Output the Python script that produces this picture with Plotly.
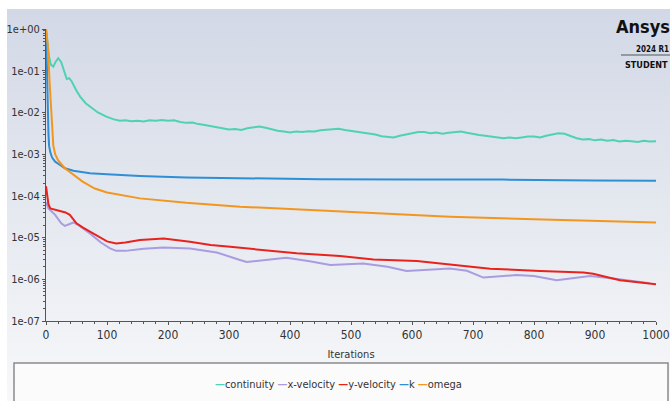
import base64
import plotly.graph_objects as go

# ---------------- data ----------------
series_names = ["continuity", "x-velocity", "y-velocity", "k", "omega"]
series_colors = ["#4fd2b2", "#a99ce0", "#e8231e", "#2f8ed6", "#f3961f"]

continuity_iter = [0, 2, 5, 8, 12, 16, 20, 25, 30, 34, 38, 42, 50, 56, 65, 75, 85, 99, 110, 121,
                   130, 140, 150, 160, 170, 180, 190, 200, 210, 220, 230, 240, 250, 260, 270, 280, 290,
                   300, 310, 320, 330, 340, 350, 360, 370, 380, 390, 400, 410, 420, 430, 440, 450, 460,
                   470, 480, 490, 500, 510, 520, 530, 540, 550, 560, 570, 580, 590, 600, 610, 620, 630,
                   640, 650, 660, 670, 680, 690, 700, 710, 720, 730, 740, 750, 760, 770, 780, 790, 800,
                   810, 820, 830, 840, 850, 860, 870, 880, 890, 900, 910, 920, 930, 940, 950, 960, 970,
                   980, 990, 1000]
continuity_val = [1.0, 0.5, 0.22, 0.14, 0.125, 0.165, 0.2, 0.16, 0.09, 0.063, 0.066, 0.056, 0.033,
                  0.024, 0.0166, 0.0126, 0.0100, 0.0079, 0.0069, 0.0063,
                  6.46e-3, 6.17e-3, 6.31e-3, 6.03e-3, 6.46e-3, 6.31e-3, 6.61e-3, 6.31e-3, 6.46e-3,
                  5.89e-3, 5.62e-3, 5.75e-3, 5.25e-3, 5.01e-3, 4.68e-3, 4.37e-3, 4.07e-3, 3.89e-3,
                  3.98e-3, 3.80e-3, 4.17e-3, 4.37e-3, 4.57e-3, 4.27e-3, 3.89e-3, 3.63e-3, 3.47e-3,
                  3.31e-3, 3.47e-3, 3.39e-3, 3.55e-3, 3.47e-3, 3.72e-3, 3.80e-3, 3.98e-3, 4.07e-3,
                  3.80e-3, 3.63e-3, 3.47e-3, 3.31e-3, 3.09e-3, 2.95e-3, 2.69e-3, 2.57e-3, 2.51e-3,
                  2.75e-3, 2.95e-3, 3.16e-3, 3.39e-3, 3.39e-3, 3.16e-3, 3.31e-3, 3.09e-3, 3.24e-3,
                  3.39e-3, 3.47e-3, 3.24e-3, 3.02e-3, 2.88e-3, 2.75e-3, 2.63e-3, 2.45e-3, 2.40e-3,
                  2.51e-3, 2.40e-3, 2.51e-3, 2.63e-3, 2.63e-3, 2.51e-3, 2.75e-3, 2.95e-3, 3.16e-3,
                  3.09e-3, 2.75e-3, 2.40e-3, 2.24e-3, 2.29e-3, 2.14e-3, 2.24e-3, 2.09e-3, 2.19e-3,
                  2.00e-3, 2.09e-3, 2.04e-3, 1.95e-3, 2.09e-3, 2.00e-3, 2.04e-3]

xvel_iter = [0, 4, 15, 25, 31, 38, 45, 55, 72, 90, 105, 115, 130, 160, 193, 236, 280, 318, 329, 360,
             394, 430, 466, 520, 560, 591, 630, 662, 690, 717, 771, 800, 837, 870, 892, 930, 973, 990]
xvel_val = [7.0e-5, 5.0e-5, 3.5e-5, 2.2e-5, 1.9e-5, 2.1e-5, 2.3e-5, 1.9e-5, 1.26e-5, 7.6e-6, 5.5e-6,
            4.8e-6, 4.8e-6, 5.4e-6, 5.75e-6, 5.5e-6, 4.4e-6, 2.9e-6, 2.6e-6, 2.9e-6, 3.3e-6, 2.75e-6,
            2.2e-6, 2.4e-6, 2.0e-6, 1.58e-6, 1.7e-6, 1.82e-6, 1.6e-6, 1.1e-6, 1.26e-6, 1.2e-6, 9.5e-7,
            1.1e-6, 1.2e-6, 1.05e-6, 8.7e-7, 8.0e-7]

yvel_iter = [0, 2, 4, 7, 15, 23, 32, 39, 45, 50, 60, 72, 85, 100, 115, 130, 154, 193, 236, 270, 302,
             357, 411, 482, 537, 608, 646, 662, 728, 810, 881, 897, 941, 1000]
yvel_val = [1.7e-4, 9.0e-5, 6.3e-5, 5.0e-5, 4.6e-5, 4.4e-5, 4.0e-5, 3.5e-5, 2.7e-5, 2.2e-5, 1.75e-5,
            1.38e-5, 1.05e-5, 8.1e-6, 7.2e-6, 7.6e-6, 8.7e-6, 9.5e-6, 7.9e-6, 6.6e-6, 6.0e-6, 5.0e-6,
            4.2e-6, 3.6e-6, 3.0e-6, 2.75e-6, 2.4e-6, 2.2e-6, 1.8e-6, 1.58e-6, 1.45e-6, 1.35e-6, 9.5e-7,
            7.6e-7]

k_iter = [0, 1, 2, 3, 4, 5, 7, 10, 15, 23, 31, 45, 72, 100, 154, 230, 318, 450, 600, 750, 900, 1000]
k_val = [1.0, 0.158, 0.0316, 7.9e-3, 3.2e-3, 1.6e-3, 1.12e-3, 8.3e-4, 6.6e-4, 5.5e-4, 4.6e-4, 4.0e-4,
         3.47e-4, 3.3e-4, 3.0e-4, 2.75e-4, 2.63e-4, 2.51e-4, 2.45e-4, 2.45e-4, 2.34e-4, 2.29e-4]

omega_iter = [0, 3, 6, 8, 10, 12, 15, 20, 31, 45, 60, 80, 100, 154, 230, 318, 400, 482, 560, 662, 800,
              900, 1000]
omega_val = [1.0, 0.4, 0.05, 0.012, 4.0e-3, 1.6e-3, 1.0e-3, 7.1e-4, 4.6e-4, 3.2e-4, 2.2e-4, 1.5e-4,
             1.2e-4, 8.7e-5, 6.8e-5, 5.5e-5, 4.8e-5, 4.17e-5, 3.6e-5, 3.16e-5, 2.75e-5, 2.5e-5, 2.29e-5]

x_ticks = [0, 100, 200, 300, 400, 500, 600, 700, 800, 900, 1000]
y_tickvals = [1e0, 1e-1, 1e-2, 1e-3, 1e-4, 1e-5, 1e-6, 1e-7]
y_ticktext = ["1e+00", "1e-01", "1e-02", "1e-03", "1e-04", "1e-05", "1e-06", "1e-07"]
x_title = "Iterations"

# ---------------- figure ----------------
FONT = "DejaVu Sans Condensed, Liberation Sans Narrow, sans-serif"
W, H = 670, 401
ML, MR, MT, MB = 46, 14, 29, 80
PW, PH = W - ML - MR, H - MT - MB


def px_x(px):
    return (px - ML) / PW


def px_y(py):
    return (H - MB - py) / PH


series = [
    (continuity_iter, continuity_val),
    (xvel_iter, xvel_val),
    (yvel_iter, yvel_val),
    (k_iter, k_val),
    (omega_iter, omega_val),
]

fig = go.Figure()
for (xs, ys), name, color in zip(series, series_names, series_colors):
    fig.add_trace(go.Scatter(x=xs, y=ys, mode="lines", name=name,
                             line=dict(color=color, width=2), showlegend=False))

# gradient background (white border left/top like the reference)
svg = ("<svg xmlns='http://www.w3.org/2000/svg' width='100' height='100' viewBox='0 0 100 100' "
       "preserveAspectRatio='none'><defs><linearGradient id='g' x1='0' y1='0' x2='0' y2='1'>"
       "<stop offset='0' stop-color='#d2d8e6'/><stop offset='0.5' stop-color='#e4e8ef'/>"
       "<stop offset='1' stop-color='#f7f8fa'/></linearGradient></defs>"
       "<rect width='100' height='100' fill='url(#g)'/></svg>")
src = "data:image/svg+xml;base64," + base64.b64encode(svg.encode()).decode()
fig.add_layout_image(dict(source=src, xref="paper", yref="paper", x=px_x(7), y=px_y(9),
                          sizex=(W - 7) / PW, sizey=(H - 9) / PH, xanchor="left", yanchor="top",
                          sizing="stretch", layer="below"))

# legend box
fig.add_shape(type="rect", xref="paper", yref="paper", x0=px_x(14), x1=px_x(668),
              y0=px_y(363), y1=px_y(410), fillcolor="#fbfbfc",
              line=dict(color="#8a8a8a", width=1.5), layer="above")

legend_text = " ".join(
    f"<span style='color:{c}'><b>—</b></span>{n}" for n, c in zip(series_names, series_colors))
fig.add_annotation(text=legend_text, xref="paper", yref="paper", x=px_x(338), y=px_y(384),
                   showarrow=False, font=dict(family=FONT, size=11, color="#333333"),
                   xanchor="center", yanchor="middle")

# Ansys logo
fig.add_annotation(text="<b>Ansys</b>", xref="paper", yref="paper", x=px_x(672), y=px_y(27),
                   showarrow=False, xanchor="right", yanchor="middle",
                   font=dict(family=FONT, size=18, color="#111111"))
fig.add_annotation(text="<b>2024 R1</b>", xref="paper", yref="paper", x=px_x(671), y=px_y(49),
                   showarrow=False, xanchor="right", yanchor="middle",
                   font=dict(family=FONT, size=8, color="#111111"))
fig.add_shape(type="line", xref="paper", yref="paper", x0=px_x(621), x1=px_x(670),
              y0=px_y(55), y1=px_y(55), line=dict(color="#555555", width=1))
fig.add_annotation(text="<b>STUDENT</b>", xref="paper", yref="paper", x=px_x(623), y=px_y(64.5),
                   showarrow=False, xanchor="left", yanchor="middle",
                   font=dict(family=FONT, size=9, color="#111111"))

minor_y = [m * 10.0 ** e for e in range(-7, 0) for m in range(2, 10)]

fig.update_layout(
    width=W, height=H,
    margin=dict(l=ML, r=MR, t=MT, b=MB, pad=0),
    paper_bgcolor="white",
    plot_bgcolor="rgba(0,0,0,0)",
    font=dict(family=FONT, size=11, color="#333333"),
    xaxis=dict(range=[0, 1000], tickvals=x_ticks, showgrid=False, zeroline=False,
               showline=True, linecolor="#555555", linewidth=1, automargin=False,
               ticks="outside", ticklen=3, tickcolor="#555555",
               minor=dict(dtick=20, ticks="outside", ticklen=2, tickcolor="#555555"),
               title=dict(text=x_title, font=dict(size=11, color="#333333"), standoff=8),
               tickfont=dict(size=12, color="#333333")),
    yaxis=dict(type="log", range=[-7, 0], tickvals=y_tickvals, ticktext=y_ticktext,
               showgrid=False, zeroline=False, showline=True, linecolor="#555555", linewidth=1,
               automargin=False, ticks="outside", ticklen=3, tickcolor="#555555",
               minor=dict(tickvals=minor_y, ticks="outside", ticklen=2, tickcolor="#555555"),
               tickfont=dict(size=11, color="#333333")),
)

fig.write_html("out.html", config={"displayModeBar": False},
               post_script="document.body.style.margin='0';document.body.style.overflow='hidden';")
